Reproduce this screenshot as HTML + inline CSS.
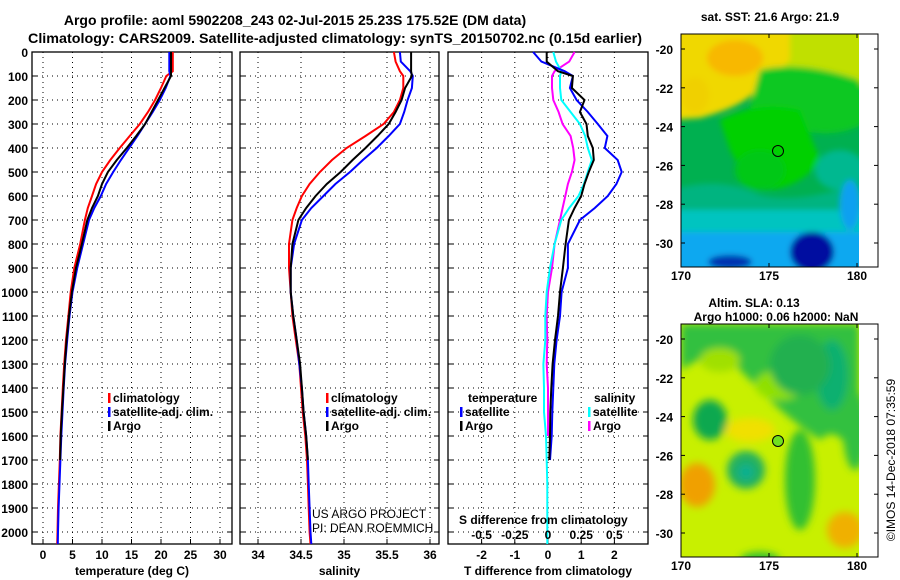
<!DOCTYPE html>
<html><head><meta charset="utf-8">
<style>
html,body{margin:0;padding:0;background:#fff;}
svg{display:block;font-family:"Liberation Sans",sans-serif;}
.t{font-weight:bold;font-size:12px;fill:#000;}
.ti{font-weight:bold;font-size:14px;fill:#000;}
</style></head>
<body>
<svg id="chart" width="900" height="580" viewBox="0 0 900 580" xmlns="http://www.w3.org/2000/svg">
<defs>
<filter id="bl" x="-20%" y="-20%" width="140%" height="140%"><feGaussianBlur stdDeviation="4"/></filter>
<filter id="bl2" x="-20%" y="-20%" width="140%" height="140%"><feGaussianBlur stdDeviation="3"/></filter>
<clipPath id="c1"><rect x="681" y="34" width="178" height="233"/></clipPath>
<clipPath id="c2"><rect x="681" y="324" width="178" height="233"/></clipPath>
</defs>
<text class="ti" x="295" y="25" text-anchor="middle">Argo profile: aoml 5902208_243 02-Jul-2015 25.23S 175.52E (DM data)</text>
<text class="ti" x="335" y="43" text-anchor="middle" textLength="614" lengthAdjust="spacingAndGlyphs">Climatology: CARS2009. Satellite-adjusted climatology: synTS_20150702.nc (0.15d earlier)</text>

<g id="maps">
<g clip-path="url(#c1)">
<rect x="681" y="34" width="178" height="233" fill="#00b050"/>
<g filter="url(#bl2)">
<rect x="670" y="25" width="200" height="60" fill="#c0e000"/>
<path d="M670 25 H790 V60 Q760 90 745 100 Q730 110 700 118 L670 120 Z" fill="#f0d800"/>
<ellipse cx="735" cy="58" rx="28" ry="18" fill="#f8b800"/>
<ellipse cx="695" cy="95" rx="14" ry="18" fill="#f0d000"/>
<path d="M760 70 Q800 60 859 80 L870 120 Q840 140 800 130 Q760 120 745 125 Z" fill="#10c820"/>
<path d="M720 120 Q760 100 800 110 L820 160 Q800 190 760 190 Q740 170 730 150 Z" fill="#00d000"/>
<ellipse cx="760" cy="170" rx="25" ry="20" fill="#00c818"/>
<path d="M670 190 Q720 175 760 195 Q800 205 870 180 V215 H670 Z" fill="#00b480"/>
<ellipse cx="840" cy="170" rx="25" ry="20" fill="#00b890"/>
<rect x="670" y="210" width="200" height="30" fill="#00c4c0"/>
<rect x="670" y="232" width="200" height="40" fill="#10a8f0"/>
<ellipse cx="812" cy="252" rx="22" ry="20" fill="#0010a0"/>
<ellipse cx="730" cy="262" rx="22" ry="7" fill="#0030b0"/>
<ellipse cx="850" cy="205" rx="10" ry="25" fill="#10a0f0"/>
</g>
</g>
<rect x="681" y="34" width="197" height="233" fill="none" stroke="#000"/>
<circle cx="778" cy="151" r="5.5" fill="none" stroke="#000"/>
<text class="t" x="770" y="21" text-anchor="middle">sat. SST: 21.6 Argo: 21.9</text>

<g clip-path="url(#c2)">
<rect x="681" y="324" width="178" height="233" fill="#c8f000"/>
<g filter="url(#bl)">
<path d="M681 324 H859 V470 Q840 420 820 440 Q790 420 770 400 Q750 380 730 360 Q710 350 681 370 Z" fill="#30c040"/>
<ellipse cx="720" cy="360" rx="20" ry="12" fill="#a0e000"/>
<ellipse cx="780" cy="385" rx="25" ry="15" fill="#90e000"/>
<ellipse cx="832" cy="375" rx="16" ry="35" fill="#10b070"/>
<ellipse cx="800" cy="365" rx="30" ry="30" fill="#20b050"/>
<ellipse cx="710" cy="420" rx="17" ry="20" fill="#10a850"/>
<ellipse cx="746" cy="470" rx="19" ry="19" fill="#20b060"/>
<ellipse cx="746" cy="472" rx="8" ry="8" fill="#10b090"/>
<ellipse cx="697" cy="485" rx="18" ry="22" fill="#f0a000"/>
<ellipse cx="750" cy="430" rx="25" ry="12" fill="#f0e000"/>
<ellipse cx="845" cy="530" rx="18" ry="18" fill="#f0b000"/>
<ellipse cx="800" cy="480" rx="15" ry="50" fill="#30c030"/>
<ellipse cx="855" cy="430" rx="12" ry="40" fill="#30c040"/>
<ellipse cx="760" cy="560" rx="20" ry="8" fill="#30c030"/>
</g>
</g>
<rect x="681" y="324" width="197" height="233" fill="none" stroke="#000"/>
<circle cx="778" cy="441" r="5.5" fill="#70e020" stroke="#000"/>
<text class="t" x="754" y="307" text-anchor="middle">Altim. SLA: 0.13</text>
<text class="t" x="776" y="321" text-anchor="middle">Argo h1000: 0.06 h2000: NaN</text>
<text x="0" y="0" transform="translate(895,460) rotate(-90)" text-anchor="middle" style="font-size:12px">©IMOS 14-Dec-2018 07:35:59</text>
</g>

<g id="plots"></g>
</svg>
<script>
// ----- data -----
const depths=[0,40,80,100,150,200,250,300,350,400,450,500,550,600,650,700,800,900,1000,1100,1200,1300,1400,1500,1600,1700,1800,1900,2000,2050];
const tempClim=[22.0,22.0,22.0,20.9,20.0,19.0,17.8,16.4,14.7,13.0,11.4,10.0,9.0,8.3,7.6,7.1,6.3,5.3,4.7,4.3,3.9,3.6,3.35,3.15,2.95,2.85,2.7,2.55,2.45,2.4];
const tempSat=[21.4,21.4,21.4,21.6,20.8,19.8,18.6,17.3,16.0,14.6,13.2,11.9,10.7,9.8,8.7,7.8,6.8,5.8,5.0,4.5,4.1,3.75,3.5,3.3,3.1,2.95,2.8,2.65,2.55,2.5];
const tempArgo=[21.7,21.7,21.7,21.7,20.6,19.5,18.4,17.3,15.8,14.2,12.5,11.0,10.0,9.3,8.3,7.5,6.6,5.6,4.9,4.4,4.0,3.7,3.45,3.2,3.0,2.9,null,null,null,null];
const salClim=[35.58,35.60,35.65,35.69,35.69,35.65,35.58,35.46,35.25,35.03,34.86,34.72,34.60,34.51,34.45,34.40,34.36,34.36,34.38,34.40,34.44,34.48,34.50,34.52,34.55,34.57,34.58,34.59,34.60,34.61];
const salSat=[35.65,35.66,35.77,35.80,35.79,35.74,35.70,35.65,35.52,35.38,35.22,35.07,34.90,34.76,34.62,34.51,34.42,34.38,34.38,34.41,34.45,34.48,34.51,34.53,34.56,34.58,34.59,34.60,34.61,34.62];
const salArgo=[35.78,35.78,35.78,35.79,35.71,35.67,35.60,35.52,35.39,35.25,35.10,34.96,34.80,34.67,34.56,34.47,34.40,34.38,34.38,34.41,34.45,34.49,34.51,34.53,34.56,34.58,null,null,null,null];
const tDiffSat=[-0.45,-0.2,0.5,0.75,0.66,0.86,1.2,1.5,1.79,1.71,2.1,2.22,2.06,1.8,1.41,0.96,0.6,0.6,0.41,0.36,0.26,0.19,0.16,0.13,0.11,0.06,null,null,null,null];
const tDiffArgo=[-0.04,-0.04,0.3,0.75,0.72,1.1,0.96,1.16,1.2,1.35,1.38,1.23,1.1,1.0,0.8,0.63,0.53,0.45,0.36,0.3,0.21,0.14,0.1,0.07,0.06,0.04,null,null,null,null];
const sDiffSat=[0.04,0.06,0.1,0.09,0.09,0.1,0.17,0.24,0.28,0.30,0.33,0.30,0.27,0.23,0.16,0.10,0.05,0.015,-0.01,-0.02,-0.02,-0.035,-0.03,-0.03,-0.015,-0.01,-0.005,-0.005,-0.005,-0.005];
const sDiffArgo=[0.2,0.16,0.05,0.03,0.03,0.04,0.08,0.11,0.17,0.19,0.2,0.18,0.15,0.13,0.11,0.09,0.05,0.03,0.0,-0.01,-0.005,-0.01,0,0,0,null,null,null,null,null];
const depthTicks=[0,100,200,300,400,500,600,700,800,900,1000,1100,1200,1300,1400,1500,1600,1700,1800,1900,2000];
const tempTicks=[0,5,10,15,20,25,30];
const salTicks=[34,34.5,35,35.5,36];
const tDiffTicks=[-2,-1,0,1,2];
const sDiffTickLabels=["-0.5","-0.25","0","0.25","0.5"];
const sDiffTicks=[-0.5,-0.25,0,0.25,0.5];
const mapLatTicks=[-20,-22,-24,-26,-28,-30];
const mapLonTicks=[170,175,180];

// ----- helpers -----
const NS="http://www.w3.org/2000/svg";
const root=document.getElementById('plots');
function mk(tag,attrs,parent){const e=document.createElementNS(NS,tag);for(const k in attrs)e.setAttribute(k,attrs[k]);(parent||root).appendChild(e);return e;}
const yD=d=>52+0.24*d;
const panels=[
 {x0:32,x1:232,f:v=>43+v*5.9,ticks:tempTicks,title:"temperature (deg C)",name:"temperature"},
 {x0:240,x1:439,f:v=>258+(v-34)*86,ticks:salTicks,title:"salinity",name:"salinity"},
 {x0:448,x1:648,f:v=>548+v*33.2,ticks:tDiffTicks,title:"T difference from climatology",name:"difference"}
];
const fS=v=>548+v*132.8;

panels.forEach((p,i)=>{
 const g=mk('g',{});
 
 
 depthTicks.forEach(d=>{
  const l=mk('line',{x1:p.x0,x2:p.x1,y1:yD(d),y2:yD(d),stroke:'#000','stroke-width':1,'stroke-dasharray':'1,4'},g);
  
  
  mk('line',{x1:p.x0,x2:p.x0+5,y1:yD(d),y2:yD(d),stroke:'#000'},g);
  mk('line',{x1:p.x1-5,x2:p.x1,y1:yD(d),y2:yD(d),stroke:'#000'},g);
  if(i===0){
   const t=mk('text',{x:28,y:yD(d)+5,'text-anchor':'end',class:'t'},g);
   t.textContent=d;
   
   
  }
 });
 p.ticks.forEach(v=>{
  const x=p.f(v);
  const l=mk('line',{x1:x,x2:x,y1:52,y2:544,stroke:'#000','stroke-width':1,'stroke-dasharray':'1,4'},g);
  
  
  mk('line',{x1:x,x2:x,y1:539,y2:544,stroke:'#000'},g);
  const t=mk('text',{x:x,y:559,'text-anchor':'middle',class:'t'},g);
  t.textContent=v;
  
  
 });
 const fr=mk('rect',{x:p.x0,y:52,width:p.x1-p.x0,height:492,fill:'none',stroke:'#000','stroke-width':1.3},g);
 
 
 const at=mk('text',{x:(p.x0+p.x1)/2,y:575,'text-anchor':'middle',class:'t'},g);
 at.textContent=p.title;
 
 
});

function line(vals,fx,color,name){
 let d='';let pen=false;
 vals.forEach((v,k)=>{ if(v===null){pen=false;return;} d+=(pen?'L':'M')+fx(v).toFixed(1)+' '+yD(depths[k]).toFixed(1)+' ';pen=true;});
 const e=mk('path',{d:d,fill:'none',stroke:color,'stroke-width':2,'stroke-linejoin':'miter'});
 
 
}
line(tempClim,panels[0].f,'#f00','temperature-climatology-line');
line(tempSat,panels[0].f,'#00f','temperature-satellite-line');
line(tempArgo,panels[0].f,'#000','temperature-argo-line');
line(salClim,panels[1].f,'#f00','salinity-climatology-line');
line(salSat,panels[1].f,'#00f','salinity-satellite-line');
line(salArgo,panels[1].f,'#000','salinity-argo-line');
line(sDiffArgo,fS,'#f0f','salinity-diff-argo-line');
line(sDiffSat,fS,'#0ff','salinity-diff-satellite-line');
line(tDiffSat,panels[2].f,'#00f','temperature-diff-satellite-line');
line(tDiffArgo,panels[2].f,'#000','temperature-diff-argo-line');

// S difference axis labels (inside panel 3)
const st=mk('text',{x:459,y:524,class:'t'});
st.textContent='S difference from climatology';


sDiffTicks.forEach((v,k)=>{
 const t=mk('text',{x:fS(v),y:539,'text-anchor':'middle',class:'t'});
 t.textContent=sDiffTickLabels[k];
 
 
});

function legend(x,y,color,label,name){
 const b=mk('rect',{x:x,y:y-9,width:2.5,height:10,fill:color});
 
 
 const t=mk('text',{x:x+5,y:y,class:'t'});
 t.textContent=label;
 
 
}
legend(108,402,'#f00','climatology','legend-t-climatology');
legend(108,416,'#00f','satellite-adj. clim.','legend-t-satellite');
legend(108,430,'#000','Argo','legend-t-argo');
legend(326,402,'#f00','climatology','legend-s-climatology');
legend(326,416,'#00f','satellite-adj. clim.','legend-s-satellite');
legend(326,430,'#000','Argo','legend-s-argo');
const lt=mk('text',{x:468,y:402,class:'t'});lt.textContent='temperature';


legend(460,416,'#00f','satellite','legend-diff-t-satellite');
legend(460,430,'#000','Argo','legend-diff-t-argo');
const ls=mk('text',{x:594,y:402,class:'t'});ls.textContent='salinity';


legend(588,416,'#0ff','satellite','legend-diff-s-satellite');
legend(588,430,'#f0f','Argo','legend-diff-s-argo');

const c1=mk('text',{x:312,y:518,style:'font-size:12px'});c1.textContent='US ARGO PROJECT';


const c2=mk('text',{x:312,y:532,style:'font-size:12px'});c2.textContent='PI: DEAN ROEMMICH';



// map axes
[[34,49,243,280],[324,339,533,570]].forEach(m=>{
 const [top,y20,y30,ly]=m;
 mapLatTicks.forEach(lat=>{
  const y=y20+(-20-lat)*(y30-y20)/10;
  mk('line',{x1:681,x2:685,y1:y,y2:y,stroke:'#000'});
  mk('line',{x1:874,x2:878,y1:y,y2:y,stroke:'#000'});
  const t=mk('text',{x:673,y:y+5,'text-anchor':'end',class:'t'});
  t.textContent=lat;
  
  
 });
 mapLonTicks.forEach(lon=>{
  const x=681+(lon-170)*17.6;
  mk('line',{x1:x,x2:x,y1:top+233,y2:top+229,stroke:'#000'});
  mk('line',{x1:x,x2:x,y1:top,y2:top+4,stroke:'#000'});
  const t=mk('text',{x:x,y:ly,'text-anchor':'middle',class:'t'});
  t.textContent=lon;
  
  
 });
});
</script>
</body></html>
